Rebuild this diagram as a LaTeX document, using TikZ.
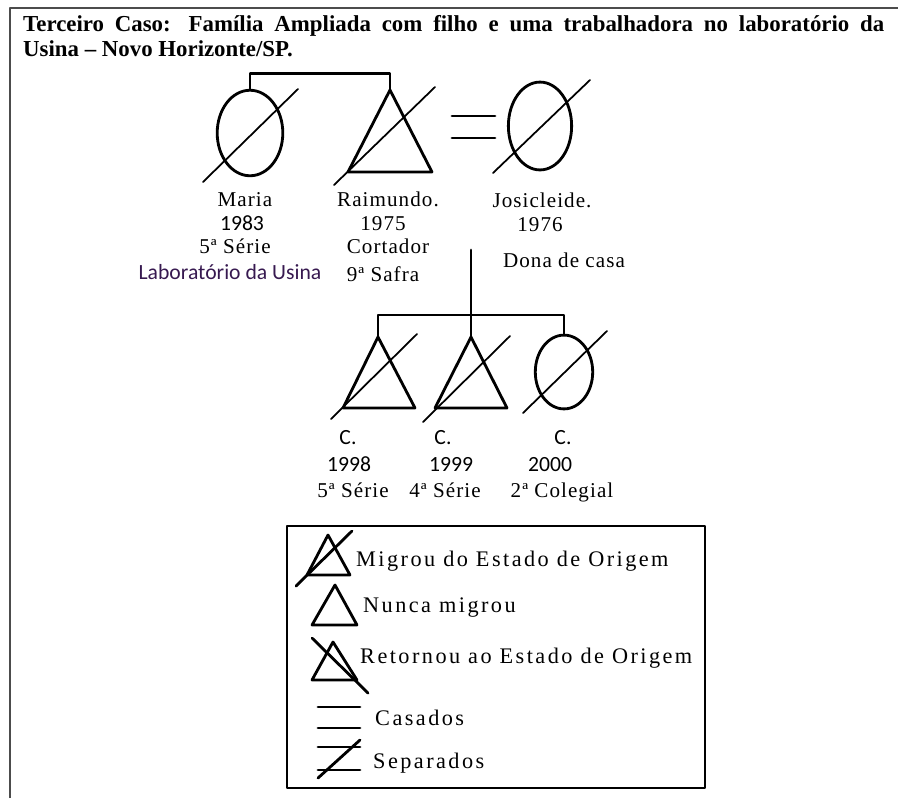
\documentclass[tikz,border=0pt]{standalone}
\usepackage{fontspec}
\setmainfont{Liberation Serif}
\newfontfamily\calfont{Carlito}
\usetikzlibrary{shapes.geometric}

\begin{document}
\begin{tikzpicture}[x=0.03cm, y=-0.03cm, line join=round, line cap=round,
	sym/.style={line width=2.4pt},
	slash/.style={line width=1.5pt},
	link/.style={line width=2.4pt},
	oval/.style={draw, ellipse, line width=2.4pt, inner sep=0pt},
	serif/.style={anchor=base, inner sep=0pt, font=\fontsize{18}{19}\selectfont\addfontfeature{LetterSpace=5}},
	sans/.style={anchor=base, inner sep=0pt, font=\calfont\fontsize{18.5}{20}\selectfont},
	keytext/.style={anchor=base west, inner sep=0pt, font=\fontsize{19}{21}\selectfont\addfontfeature{LetterSpace=11}}]
	\useasboundingbox (0,0) rectangle (898,798);
	% frame
	\draw[line width=1.4pt, black!70, line cap=butt] (10,798) -- (10,8) -- (898,8);
	\node[anchor=north west, inner sep=0pt, text width=735pt, align=justify,
		font=\bfseries\fontsize{19.5}{21.3}\selectfont] (title) at (23,15)
		{Terceiro Caso: Família Ampliada com filho e uma trabalhadora no laboratório da\linebreak Usina -- Novo Horizonte/SP.};
	% parents
	\node[oval, minimum width=56pt, minimum height=73pt] (maria) at (250,133) {};
	\draw[slash] (203,182) -- (298,89);
	\coordinate (raimundo) at (390,90);
	\coordinate (raimundoL) at (348,172);
	\coordinate (raimundoR) at (432,172);
	\draw[sym] (raimundo) -- (raimundoL) -- (raimundoR) -- cycle;
	\draw[slash] (334,185) -- (435,87);
	\node[oval, minimum width=54pt, minimum height=75pt] (josi) at (540,126) {};
	\draw[slash] (493,173) -- (590,80);
	\coordinate (eqA) at (452,116);
	\coordinate (eqB) at (495,116);
	\coordinate (eqC) at (452,138);
	\coordinate (eqD) at (495,138);
	\draw[sym] (eqA) -- (eqB) (eqC) -- (eqD);
	\draw[link] (maria.north) -- ++(0,-15) -| (raimundo);
	% labels of the parents
	\node[serif] (nMaria) at (245,206) {Maria};
	\node[sans] (yMaria) at (242,230) {1983};
	\node[serif] (sMaria) at (235,253) {5ª Série};
	\node[sans, text={rgb,255:red,55;green,25;blue,80}] (wMaria) at (230,279) {Laboratório da Usina};
	\node[serif] (nRai) at (388,206) {Raimundo.};
	\node[serif] (yRai) at (383,230) {1975};
	\node[serif] (sRai) at (388,253) {Cortador};
	\node[serif] (wRai) at (383,281) {9ª Safra};
	\node[serif] (nJosi) at (542,207) {Josicleide.};
	\node[serif] (yJosi) at (540,231) {1976};
	\node[serif] (wJosi) at (564,267) {Dona de casa};
	% children
	\coordinate (couple) at (471,250);
	\coordinate (kid1) at (378,337);
	\coordinate (kid1L) at (343,408);
	\coordinate (kid1R) at (415,408);
	\coordinate (kid2) at (471,337);
	\coordinate (kid2L) at (435,408);
	\coordinate (kid2R) at (507,408);
	\draw[sym] (kid1) -- (kid1L) -- (kid1R) -- cycle;
	\draw[slash] (331,419) -- (417,334);
	\draw[sym] (kid2) -- (kid2L) -- (kid2R) -- cycle;
	\draw[slash] (423,422) -- (510,336);
	\node[oval, minimum width=49pt, minimum height=63pt] (kid3) at (564,372) {};
	\draw[slash] (523,413) -- (607,331);
	\draw[link] (couple) -- (kid2);
	\draw[link] (kid1) -- ++(0,-22) -| (kid3.north);
	\node[sans] (cKid1) at (348,444) {C.};
	\node[sans] (cKid2) at (443,444) {C.};
	\node[sans] (cKid3) at (563,444) {C.};
	\node[sans] (yKid1) at (349,471) {1998};
	\node[sans] (yKid2) at (451,471) {1999};
	\node[sans] (yKid3) at (550,471) {2000};
	\node[serif] (sKid1) at (353,497) {5ª Série};
	\node[serif] (sKid2) at (445,497) {4ª Série};
	\node[serif] (sKid3) at (562,497) {2ª Colegial};
	% legend
	\draw[line width=2.4pt] (287,526) rectangle (705,788);
	\draw[sym] (328,535) -- (307,575) -- (350,575) -- cycle;
	\draw[sym] (296,586) -- (352,531);
	\node[keytext] (kMigrou) at (356,566) {Migrou do Estado de Origem};
	\draw[sym] (335,585) -- (312,625) -- (357,625) -- cycle;
	\node[keytext] (kNunca) at (363,612) {Nunca migrou};
	\draw[sym] (333,642) -- (312,680) -- (357,680) -- cycle;
	\draw[sym] (312,638) -- (368,693);
	\node[keytext] (kRetornou) at (360,663) {Retornou ao Estado de Origem};
	\draw[sym] (318,707) -- (360,707) (318,728) -- (360,728);
	\node[keytext] (kCasados) at (375,725) {Casados};
	\draw[sym] (318,747) -- (360,747) (318,770) -- (360,770);
	\draw[sym] (318,778) -- (360,740);
	\node[keytext] (kSeparados) at (373,768) {Separados};
\end{tikzpicture}
\end{document}
